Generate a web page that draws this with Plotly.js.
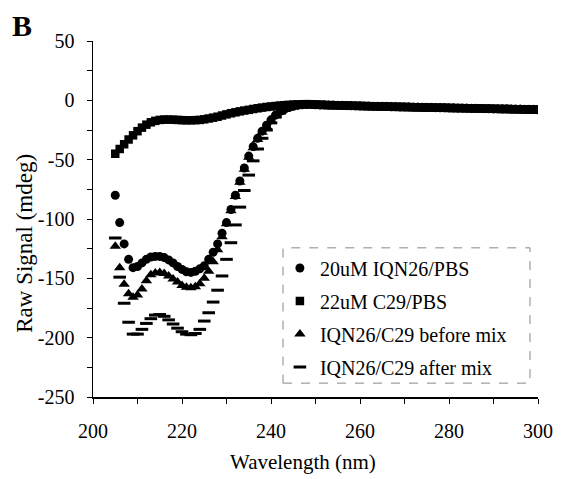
<!DOCTYPE html>
<html>
<head>
<meta charset="utf-8">
<script src="https://cdn.plot.ly/plotly-3.0.1.min.js"></script>
<style>
html,body{margin:0;padding:0;background:#fff;}
#chart{width:565px;height:479px;}
</style>
</head>
<body>
<div id="chart"></div>
<script>
// Sampling grid (nm), 1 nm steps from 205 to 300
const wavelengthStart = 205;
const wavelengthEnd = 300;
const wavelength = [];
for (let w = wavelengthStart; w <= wavelengthEnd; w++) wavelength.push(w);

const seriesNames = ["20uM IQN26/PBS", "22uM C29/PBS", "IQN26/C29 before mix", "IQN26/C29 after mix"];

const iqn26PBS = [
  -80,-103,-121,-134,-141,-140,-137,-134,-132,-131.5,
  -131.5,-132.5,-134.5,-137,-140,-142.5,-144.5,-145,-144,-142,
  -139.5,-134,-128,-121,-112,-103,-92,-80,-68,-57,
  -47,-39,-32,-26,-21,-16.5,-12.5,-9.5,-7.5,-6,
  -5,-4.3,-3.8,-3.5,
  -3.6,-3.8,-3.9,-4.0,-4.1,-4.2,-4.3,-4.4,-4.5,-4.6,
  -4.7,-4.8,-4.9,-5.0,-5.1,-5.2,-5.2,-5.3,-5.4,-5.5,
  -5.6,-5.6,-5.7,-5.8,-5.9,-6.0,-6.0,-6.1,-6.2,-6.3,
  -6.3,-6.4,-6.5,-6.6,-6.6,-6.7,-6.8,-6.9,-6.9,-7.0,
  -7.1,-7.2,-7.2,-7.3,-7.4,-7.5,-7.5,-7.6,-7.7,-7.8,
  -7.8,-7.9
];

const c29PBS = [
  -45,-41,-37,-33,-29.5,-26,-23,-20.5,-18.5,-17.3,
  -16.5,-16.2,-16.2,-16.3,-16.5,-16.7,-16.8,-16.8,-16.7,-16.5,
  -16,-15.3,-14.6,-13.8,-12.8,-11.8,-10.9,-10.1,-9.3,-8.6,
  -8,-7.3,-6.7,-6.1,-5.6,-5.2,-4.8,-4.4,-4.1,-3.8,
  -3.6,-3.4,-3.3,-3.2,
  -3.3,-3.5,-3.7,-3.9,-4.0,-4.1,-4.2,-4.3,-4.4,-4.5,
  -4.6,-4.7,-4.8,-4.9,-5.0,-5.1,-5.2,-5.3,-5.4,-5.5,
  -5.5,-5.6,-5.7,-5.8,-5.9,-5.9,-6.0,-6.1,-6.2,-6.2,
  -6.3,-6.4,-6.5,-6.5,-6.6,-6.7,-6.8,-6.8,-6.9,-7.0,
  -7.0,-7.1,-7.2,-7.3,-7.3,-7.4,-7.5,-7.6,-7.6,-7.7,
  -7.8,-7.8
];

const beforeMix = [
  -123,-141,-155,-163,-166,-164,-159,-152,-147,-145.5,
  -145,-146,-148,-150.5,-153,-156,-157.5,-158,-157,-154.5,
  -150,-144,-136,-126,-115,-104,-93,-81,-69,-58,
  -48,-40,-33,-27,-22,-17,-13,-10,-7.8,-6.2,
  -5.2,-4.5,-4,-3.7,
  -3.7,-3.8,-3.9,-4.0,-4.1,-4.2,-4.3,-4.4,-4.5,-4.6,
  -4.7,-4.8,-4.9,-5.0,-5.1,-5.1,-5.2,-5.3,-5.4,-5.5,
  -5.6,-5.7,-5.7,-5.8,-5.9,-6.0,-6.1,-6.1,-6.2,-6.3,
  -6.4,-6.4,-6.5,-6.6,-6.7,-6.7,-6.8,-6.9,-7.0,-7.0,
  -7.1,-7.2,-7.3,-7.3,-7.4,-7.5,-7.6,-7.6,-7.7,-7.8,
  -7.8,-7.9
];

const afterMix = [
  -116,-149,-171,-187,-197,-197,-193,-188,-184,-181,
  -180.5,-182,-185,-188.5,-192,-195,-197,-197.5,-196.5,-193,
  -186,-179,-170,-160,-148,-134,-120,-105,-90,-76,
  -63,-51,-41,-32,-25,-19,-14,-10.5,-8,-6.5,
  -5.3,-4.6,-4,-3.7,
  -3.7,-3.8,-3.9,-4.0,-4.1,-4.2,-4.3,-4.4,-4.5,-4.6,
  -4.7,-4.8,-4.9,-5.0,-5.1,-5.2,-5.2,-5.3,-5.4,-5.5,
  -5.6,-5.6,-5.7,-5.8,-5.9,-6.0,-6.0,-6.1,-6.2,-6.3,
  -6.3,-6.4,-6.5,-6.6,-6.6,-6.7,-6.8,-6.9,-6.9,-7.0,
  -7.1,-7.2,-7.2,-7.3,-7.4,-7.5,-7.5,-7.6,-7.7,-7.8,
  -7.8,-7.9
];

const xTickVals = [200, 220, 240, 260, 280, 300];
const xTickText = ["200", "220", "240", "260", "280", "300"];
const yTickVals = [50, 0, -50, -100, -150, -200, -250];
const yTickText = ["50", "0", "-50", "-100", "-150", "-200", "-250"];

const FONT = "'Liberation Serif', 'Times New Roman', Times, serif";

const traces = [
  {x: wavelength, y: iqn26PBS, name: seriesNames[0], legendgroup: "a", mode: "markers", type: "scatter",
   marker: {symbol: "circle", size: 9, color: "#000"}},
  {x: wavelength, y: c29PBS, name: seriesNames[1], legendgroup: "b", mode: "markers", type: "scatter",
   marker: {symbol: "square", size: 8.5, color: "#000"}},
  {x: wavelength, y: beforeMix, name: seriesNames[2], legendgroup: "c", mode: "markers", type: "scatter",
   marker: {symbol: "triangle-up", size: 10, color: "#000"}},
  {x: wavelength, y: afterMix, name: seriesNames[3], legendgroup: "d", mode: "markers", type: "scatter",
   marker: {symbol: "line-ew", size: 9, color: "#000", line: {color: "#000", width: 3}}}
];

const layout = {
  width: 565, height: 479,
  margin: {l: 93, r: 27, t: 41, b: 82},
  paper_bgcolor: "#fff", plot_bgcolor: "#fff",
  font: {family: FONT, color: "#000", size: 20},
  showlegend: true,
  legend: {
    x: 0.42, y: 0.417, xanchor: "left", yanchor: "top",
    bgcolor: "rgba(0,0,0,0)", borderwidth: 0,
    font: {family: FONT, size: 20, color: "#000"},
    traceorder: "grouped", tracegroupgap: 4, itemwidth: 30
  },
  xaxis: {
    range: [200, 300], tickmode: "array", tickvals: xTickVals, ticktext: xTickText,
    ticks: "outside", ticklen: 5, tickwidth: 1, tickcolor: "#000",
    minor: {dtick: 10, tick0: 200, ticks: "outside", ticklen: 5, tickwidth: 1, tickcolor: "#000", showgrid: false},
    showline: true, linecolor: "#000", linewidth: 1.5,
    showgrid: false, zeroline: false, ticklabelstandoff: 10,
    tickfont: {family: FONT, size: 20, color: "#000"}
  },
  yaxis: {
    range: [-250, 50], tickmode: "array", tickvals: yTickVals, ticktext: yTickText,
    ticks: "outside", ticklen: 5, tickwidth: 1, tickcolor: "#000",
    minor: {dtick: 25, tick0: 0, ticks: "outside", ticklen: 5, tickwidth: 1, tickcolor: "#000", showgrid: false},
    showline: true, linecolor: "#000", linewidth: 1.5,
    showgrid: false, zeroline: false, ticklabelstandoff: 8,
    tickfont: {family: FONT, size: 20, color: "#000"}
  },
  shapes: [
    {type: "rect", xref: "paper", yref: "paper", x0: 0.427, x1: 0.982, y0: 0.039, y1: 0.419,
     line: {color: "#888", width: 1, dash: "dash"}, fillcolor: "rgba(0,0,0,0)", layer: "below"}
  ],
  annotations: [
    {text: "<b>B</b>", xref: "paper", yref: "paper", x: -0.187, y: 1.095, xanchor: "left", yanchor: "top",
     showarrow: false, font: {family: FONT, size: 30, color: "#000"}},
    {text: "Raw Signal (mdeg)", xref: "paper", yref: "paper", x: -0.153, y: 0.433, xanchor: "center", yanchor: "middle",
     textangle: -90, showarrow: false, font: {family: FONT, size: 23, color: "#000"}},
    {text: "Wavelength (nm)", xref: "paper", yref: "paper", x: 0.472, y: -0.183, xanchor: "center", yanchor: "middle",
     showarrow: false, font: {family: FONT, size: 21, color: "#000"}}
  ]
};

Plotly.newPlot("chart", traces, layout, {displayModeBar: false, staticPlot: true});
</script>
</body>
</html>
